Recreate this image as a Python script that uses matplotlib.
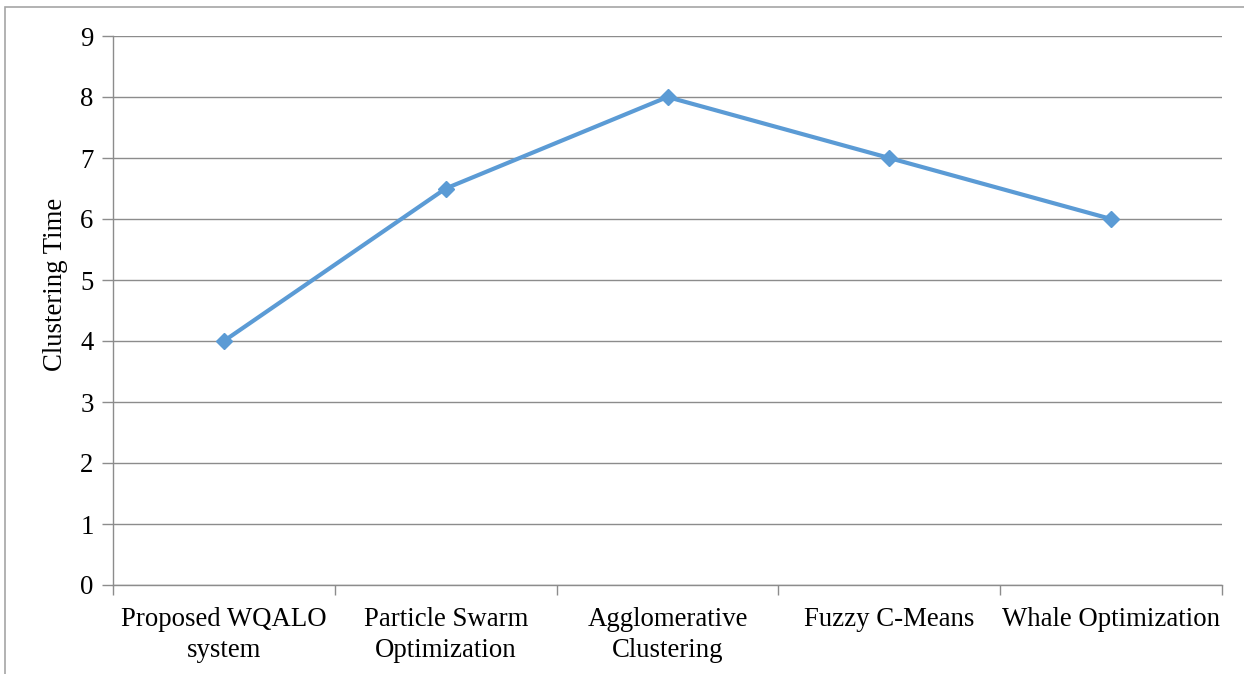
import matplotlib.pyplot as plt
import matplotlib.patches as patches
import numpy as np

plt.rcParams['font.family'] = ['Liberation Serif', 'DejaVu Serif']

methods = ['Proposed WQALO\nsystem', 'Particle Swarm\nOptimization',
           'Agglomerative\nClustering', 'Fuzzy C-Means', 'Whale Optimization']
clustering_time = [4, 6.5, 8, 7, 6]
y_ticks = [0, 1, 2, 3, 4, 5, 6, 7, 8, 9]

fig = plt.figure(figsize=(12.44, 6.74), dpi=100)
ax = fig.add_axes([113 / 1244, 1 - 585 / 674, 1109 / 1244, 549 / 674])

# outer chart border (only left/top visible in the original)
fig.patches.append(patches.Rectangle((4.5 / 1244, -0.05), 1.1, 1 - 6.5 / 674 + 0.05,
                                     transform=fig.transFigure, fill=False,
                                     edgecolor='#a6a6a6', linewidth=1.2))

x = np.arange(len(methods))
ax.plot(x, clustering_time, color='#5b9bd5', linewidth=3, marker='D',
        markersize=8, zorder=3)

ax.set_xlim(-0.5, len(methods) - 0.5)
ax.set_ylim(0, 9)
ax.set_yticks(y_ticks)
ax.grid(axis='y', color='#8c8c8c', linewidth=1)
ax.set_axisbelow(True)

ax.set_xticks(x)
ax.set_xticklabels(methods, fontsize=19.3, linespacing=1.3)
ax.set_xticks(np.arange(-0.5, len(methods), 1), minor=True)
ax.tick_params(axis='x', which='major', length=0, pad=16)
ax.tick_params(axis='x', which='minor', length=7, color='#8c8c8c', width=1)
ax.tick_params(axis='y', length=8, color='#8c8c8c', width=1, labelsize=19.3, pad=6)

for side in ['top', 'right']:
    ax.spines[side].set_visible(False)
for side in ['left', 'bottom']:
    ax.spines[side].set_color('#8c8c8c')
    ax.spines[side].set_linewidth(1)

ax.set_ylabel('Clustering Time', fontsize=19.3, labelpad=9)
ax.yaxis.label.set_y(0.547)

plt.savefig('out.png', dpi=100)
